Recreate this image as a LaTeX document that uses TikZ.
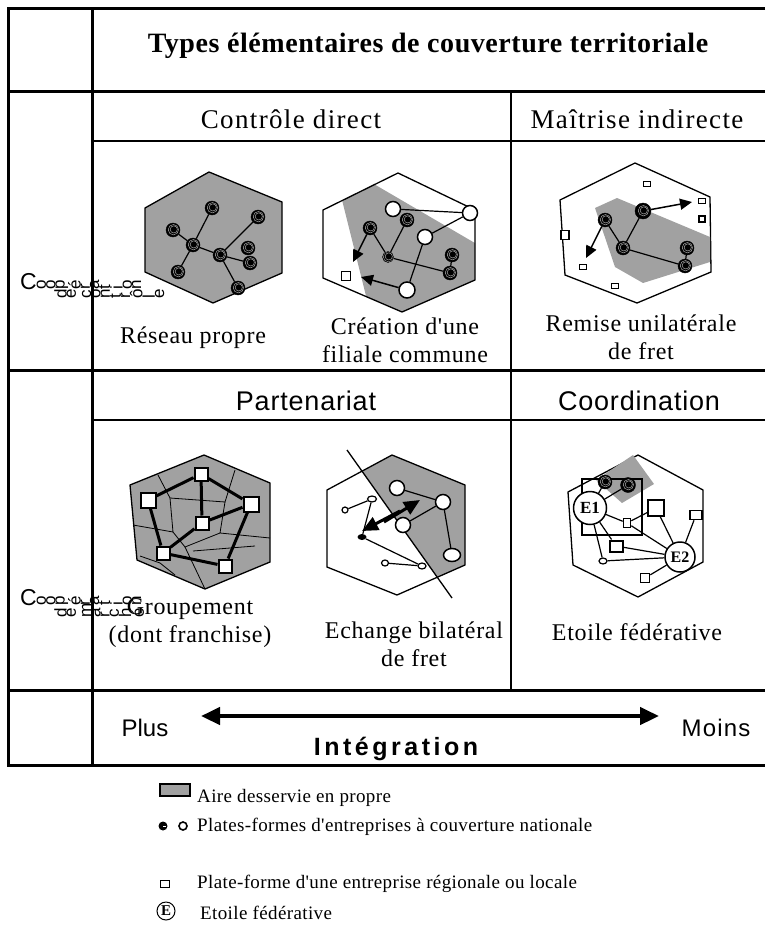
\documentclass[tikz,border=0pt]{standalone}
\usepackage{fontspec}
\usepackage{graphicx}
\setmainfont{Liberation Serif}
\setsansfont{Liberation Sans}
\newfontfamily\hdfont[LetterSpace=5]{Liberation Serif}
\newfontfamily\capfont[LetterSpace=3]{Liberation Serif}
\newfontfamily\hdsans[LetterSpace=3]{Liberation Sans}
\newfontfamily\intfont[LetterSpace=14]{Liberation Sans}
\newfontfamily\moinsfont[LetterSpace=5]{Liberation Sans}
\newfontfamily\legfont[LetterSpace=2]{Liberation Serif}
\newfontfamily\titlefont[LetterSpace=2]{Liberation Serif}
\usetikzlibrary{arrows.meta,shapes.geometric}
\definecolor{areagray}{gray}{0.63}
\makeatletter
\newcommand\rotlet[1]{\@tfor\rl@c:=#1\do{\rotatebox{90}{\rl@c}}}
\makeatother
\tikzset{
  frame/.style={line width=3pt},
  thinl/.style={line width=1.4pt},
  hexa/.style={line width=1.3pt},
  bn/.style={circle, fill=black, draw=black, inner sep=0pt, minimum size=14pt,
    path picture={\draw[gray!70, line width=0.5pt] ([shift={(0.8pt,0.6pt)}]path picture bounding box.center) circle (3.6pt);
                  \draw[gray!50, line width=0.4pt] ([shift={(0.4pt,0.3pt)}]path picture bounding box.center) circle (5.2pt);}},
  wn/.style={circle, draw, line width=1.5pt, fill=white, inner sep=0pt, minimum size=15pt},
  sq/.style={rectangle, draw, line width=1.8pt, fill=white, inner sep=0pt, minimum width=8pt, minimum height=7pt},
  gsq/.style={rectangle, draw, line width=2pt, fill=white, inner sep=0pt, minimum size=13pt},
  ed/.style={line width=1.2pt},
  ged/.style={line width=3pt},
  vor/.style={line width=0.8pt},
  arr/.style={line width=1.5pt, -{Triangle[length=12pt,width=11pt]}},
  hdr/.style={font=\hdfont\fontsize{27}{27}\selectfont},
  hds/.style={font=\hdsans\fontsize{27}{27}\selectfont},
  capt/.style={font=\capfont\fontsize{24}{28}\selectfont, align=center},
  leg/.style={font=\legfont\fontsize{19}{19}\selectfont, anchor=west, inner sep=0pt},
  rot/.style={font=\sffamily\fontsize{17}{17}\selectfont, anchor=west, inner sep=0pt},
}
\begin{document}
\begin{tikzpicture}[x=1pt,y=-1pt]
\useasboundingbox (0,0) rectangle (765,944);
% ---------- table ----------
\draw[frame] (765,9) -- (8,9) -- (8,765) -- (765,765);
\draw[frame] (92,9) -- (92,765);
\draw[frame] (8,92) -- (765,92);
\draw[frame] (8,370) -- (765,370);
\draw[frame] (8,690) -- (765,690);
\draw[thinl] (92,141) -- (765,141);
\draw[thinl] (92,420) -- (765,420);
\draw[thinl] (511,92) -- (511,690);
% ---------- headings ----------
\node[font=\titlefont\bfseries\fontsize{28}{28}\selectfont] (title) at (428,46) {Types élémentaires de couverture territoriale};
\node[hdr] (h1) at (291,119) {Contrôle direct};
\node[hdr] (h2) at (637,119) {Maîtrise indirecte};
\node[hds] (h3) at (306,401) {Partenariat};
\node[hds] (h4) at (639,401) {Coordination};
% ---------- left column ----------
\node[rot] (lc1a) at (20,282) {\fontsize{23}{23}\selectfont C\fontsize{17}{17}\selectfont\rotlet{oopération}};
\node[rot] (lc1b) at (54,294) {\rotlet{de}\hspace{6pt}\rotlet{contrôle}};
\node[rot] (lc2a) at (20,598) {\fontsize{23}{23}\selectfont C\fontsize{17}{17}\selectfont\rotlet{oopération}};
\node[rot] (lc2b) at (54,610) {\rotlet{de}\hspace{6pt}\rotlet{marché}};
% ---------- captions ----------
\node[capt] (c1) at (193,338) {Réseau propre};
\node[capt] (c2) at (405,340) {Création d'une\\filiale commune};
\node[capt] (c3) at (641,337) {Remise unilatérale\\de fret};
\node[capt] (c4) at (190,623) {Groupement\\(dont franchise)};
\node[capt] (c5) at (414,644) {Echange bilatéral\\de fret};
\node[capt] (c6) at (637,632) {Etoile fédérative};
% ================= cell 1 : Réseau propre =================
\draw[hexa, fill=areagray] (209,172) -- (282,202) -- (282,273) -- (213,303) -- (145,272) -- (145,208) -- cycle;
\node[bn] (A) at (193,245) {};
\node[bn] (B) at (220,255) {};
\node[bn] (n1) at (173,230) {};
\node[bn] (n2) at (212,208) {};
\node[bn] (n3) at (258,217) {};
\node[bn] (n4) at (248,248) {};
\node[bn] (n5) at (250,263) {};
\node[bn] (n6) at (178,272) {};
\node[bn] (n7) at (238,288) {};
\draw[ed] (A) -- (n1); \draw[ed] (A) -- (n2); \draw[ed] (A) -- (n6); \draw[ed] (A) -- (B);
\draw[ed] (B) -- (n3); \draw[ed] (B) -- (n5); \draw[ed] (B) -- (n7);
% ================= cell 2 : filiale commune =================
\begin{scope}
\clip (398,173) -- (475,210) -- (475,280) -- (402,312) -- (323,278) -- (323,210) -- cycle;
\fill[areagray] (367,180) -- (480,246) -- (480,320) -- (372,320) -- (342,200) -- cycle;
\end{scope}
\draw[hexa] (398,173) -- (475,210) -- (475,280) -- (402,312) -- (323,278) -- (323,210) -- cycle;
\node[bn] (b1) at (407,220) {};
\node[wn] (w1) at (393,209) {};
\node[wn] (w2) at (470,213) {};
\node[wn] (w3) at (425,237) {};
\node[wn, minimum size=16pt] (w4) at (407,290) {};
\node[bn] (b2) at (370,228) {};
\node[bn, minimum size=11pt] (b3) at (388,257) {};
\node[bn] (b4) at (452,255) {};
\node[bn] (b5) at (450,273) {};
\node[sq, minimum width=9pt, minimum height=9pt] (s1) at (346,276) {};
\coordinate (a2a) at (353,262);
\coordinate (a2b) at (361,277);
\draw[ed] (w1) -- (w2); \draw[ed] (w2) -- (w3); \draw[ed] (b1) -- (b3);
\draw[ed] (b2) -- (b3); \draw[ed] (b3) -- (b5); \draw[ed] (w3) -- (w4); \draw[ed] (b4) -- (b5);
\draw[arr] (b2) -- (a2a);
\draw[arr] (w4) -- (a2b);
% ================= cell 3 : remise unilatérale =================
\draw[hexa] (635,163) -- (710,197) -- (711,272) -- (637,303) -- (565,275) -- (560,200) -- cycle;
\fill[areagray] (595,208) -- (617,198) -- (710,237) -- (710,262) -- (643,283) -- (615,267) -- cycle;
\node[bn] (d1) at (605,220) {};
\node[bn, minimum size=16pt] (d2) at (643,211) {};
\node[bn] (d3) at (623,248) {};
\node[bn] (d4) at (687,248) {};
\node[bn] (d5) at (685,266) {};
\node[sq, minimum width=7pt, minimum height=5pt, line width=1.5pt] (q1) at (647,184) {};
\node[sq, minimum width=7pt, minimum height=5pt, line width=1.5pt] (q2) at (702,201) {};
\node[sq, minimum width=6pt, minimum height=6pt, line width=1.5pt] (q3) at (702,219) {};
\node[sq, minimum width=8pt, minimum height=9pt, line width=1.5pt] (q4) at (565,235) {};
\node[sq, minimum width=7pt, minimum height=5pt, line width=1.5pt] (q5) at (583,267) {};
\node[sq, minimum width=7pt, minimum height=5pt, line width=1.5pt] (q6) at (615,286) {};
\coordinate (a3a) at (692,202);
\coordinate (a3b) at (586,258);
\draw[ed] (d1) -- (d3); \draw[ed] (d3) -- (d2); \draw[ed] (d3) -- (d5); \draw[ed] (d4) -- (d5);
\draw[arr] (d2) -- (a3a);
\draw[arr] (d1) -- (a3b);
% ================= cell 4 : groupement =================
\draw[hexa, fill=areagray] (204,455) -- (270,483) -- (270,562) -- (205,589) -- (137,560) -- (130,485) -- cycle;
\draw[vor] (158,475) -- (170,498) -- (225,502) -- (235,470);
\draw[vor] (225,502) -- (220,533) -- (270,538);
\draw[vor] (170,498) -- (173,532) -- (133,525);
\draw[vor] (173,532) -- (185,547) -- (220,533);
\draw[vor] (185,547) -- (205,589);
\draw[vor] (193,551) -- (255,546);
\draw[vor] (140,556) -- (160,563) -- (175,575);
\node[gsq] (g1) at (201,474) {};
\node[gsq, minimum size=15pt] (g2) at (148,500) {};
\node[gsq, minimum size=15pt] (g3) at (251,504) {};
\node[gsq] (g4) at (202,523) {};
\node[gsq] (g5) at (163,553) {};
\node[gsq] (g6) at (225,566) {};
\draw[ged] (g1) -- (g2); \draw[ged] (g1) -- (g3); \draw[ged] (g1) -- (g4);
\draw[ged] (g2) -- (g5); \draw[ged] (g3) -- (g6); \draw[ged] (g4) -- (g3);
\draw[ged] (g4) -- (g5); \draw[ged] (g5) -- (g6);
% ================= cell 5 : échange bilatéral =================
\begin{scope}
\clip (392,455) -- (465,485) -- (465,565) -- (397,595) -- (327,567) -- (327,490) -- cycle;
\fill[areagray] (347,450) -- (470,450) -- (470,600) -- (452,598) -- cycle;
\end{scope}
\draw[hexa] (392,455) -- (465,485) -- (465,565) -- (397,595) -- (327,567) -- (327,490) -- cycle;
\coordinate (dl1) at (347,450);
\coordinate (dl2) at (452,598);
\draw[hexa] (dl1) -- (dl2);
\node[wn] (e1) at (397,488) {};
\node[wn] (e2) at (443,502) {};
\node[wn] (e3) at (403,525) {};
\node[ellipse, draw, line width=1.5pt, fill=white, inner sep=0pt, minimum width=17pt, minimum height=13pt] (e4) at (452,555) {};
\node[ellipse, draw, line width=1.2pt, fill=white, inner sep=0pt, minimum width=9pt, minimum height=6pt] (f1) at (372,499) {};
\node[circle, draw, line width=1.2pt, fill=white, inner sep=0pt, minimum size=6pt] (f2) at (345,510) {};
\node[ellipse, fill=black, inner sep=0pt, minimum width=9pt, minimum height=6pt] (f3) at (362,537) {};
\node[ellipse, draw, line width=1.2pt, fill=white, inner sep=0pt, minimum width=7pt, minimum height=6pt] (f4) at (385,563) {};
\node[ellipse, draw, line width=1.2pt, fill=white, inner sep=0pt, minimum width=8pt, minimum height=6pt] (f5) at (422,566) {};
\draw[ed] (e1) -- (e2); \draw[ed] (e2) -- (e3); \draw[ed] (e2) -- (e4);
\draw[ed] (f2) -- (f1); \draw[ed] (f1) -- (f3); \draw[ed] (f3) -- (f5); \draw[ed] (f4) -- (f5);
\coordinate (x1a) at (384,522);
\coordinate (x1b) at (420,500);
\coordinate (x2a) at (400,511);
\coordinate (x2b) at (362,531);
\draw[line width=3pt, -{Triangle[length=16pt,width=14pt]}] (x1a) -- (x1b);
\draw[line width=3pt, -{Triangle[length=16pt,width=14pt]}] (x2a) -- (x2b);
% ================= cell 6 : étoile fédérative =================
\draw[hexa] (638,455) -- (703,490) -- (703,562) -- (638,597) -- (573,565) -- (568,492) -- cycle;
\fill[areagray] (596,480) -- (633,455) -- (654,484) -- (622,503) -- cycle;
\draw[line width=2pt] (582,479) rectangle (642,535);
\node[bn] (k1) at (605,482) {};
\node[bn, minimum size=15pt] (k2) at (628,485) {};
\node[sq, minimum size=16pt, line width=2pt] (t1) at (656,508) {};
\node[sq, minimum width=7pt, minimum height=9pt, line width=1.6pt] (t2) at (627,523) {};
\node[sq, minimum width=13pt, minimum height=11pt, line width=2pt] (t3) at (616,546) {};
\node[sq, minimum width=12pt, minimum height=9pt, line width=1.6pt] (t4) at (696,515) {};
\node[sq, minimum width=9pt, minimum height=9pt, line width=1.6pt] (t5) at (645,578) {};
\node[ellipse, draw, line width=1.2pt, fill=white, inner sep=0pt, minimum width=8pt, minimum height=6pt] (t6) at (603,561) {};
\node[circle, draw, line width=1.5pt, fill=white, inner sep=0pt, minimum size=33pt, font=\bfseries\fontsize{17}{17}\selectfont] (E1) at (590,508) {E1};
\node[circle, draw, line width=1.5pt, fill=white, inner sep=0pt, minimum size=30pt, font=\bfseries\fontsize{16}{16}\selectfont] (E2) at (680,557) {E2};
\draw[ed] (E1) -- (k1); \draw[ed] (E1) -- (k2); \draw[ed] (E1) -- (t2);
\draw[ed] (E1) -- (t3); \draw[ed] (E1) -- (t6);
\draw[ed] (t3) -- (E2); \draw[ed] (t6) -- (E2); \draw[ed] (t1) -- (E2);
\draw[ed] (t4) -- (E2); \draw[ed] (t5) -- (E2); \draw[ed] (t2) -- (E2); \draw[ed] (t2) -- (t1);
% ---------- bottom row ----------
\node[font=\sffamily\fontsize{24}{24}\selectfont] (plus) at (145,728) {Plus};
\node[font=\moinsfont\fontsize{24}{24}\selectfont] (moins) at (716,728) {Moins};
\coordinate (al) at (201,716);
\coordinate (ar) at (659,716);
\draw[line width=4.5pt, {Triangle[length=19pt,width=17pt]}-{Triangle[length=19pt,width=17pt]}] (al) -- (ar);
\node[font=\intfont\bfseries\fontsize{25}{25}\selectfont] (integ) at (396,749) {Intégration};
% ---------- legend ----------
\draw[line width=1.5pt, fill=areagray] (160,784) rectangle (190,796);
\node[leg] (l1) at (197,798) {Aire desservie en propre};
\node[circle, fill=black, inner sep=0pt, minimum size=9pt,
  path picture={\draw[white, line width=0.6pt] ([shift={(0pt,-0.5pt)}]path picture bounding box.center) -- ++(3pt,0);}] (lb) at (163,826) {};
\node[circle, draw, line width=1.6pt, inner sep=0pt, minimum size=8pt] (lw) at (183,826) {};
\node[leg] (l2) at (197,827) {Plates-formes d'entreprises à couverture nationale};
\node[sq, minimum width=9pt, minimum height=7pt, line width=1.8pt] (ls) at (165,884) {};
\node[leg] (l3) at (197,884) {Plate-forme d'une entreprise régionale ou locale};
\node[circle, draw, line width=1pt, inner sep=0pt, minimum size=18pt, font=\bfseries\fontsize{15}{15}\selectfont] (le) at (166,911) {E};
\node[leg] (l4) at (200,913) {Etoile fédérative};
\end{tikzpicture}
\end{document}
